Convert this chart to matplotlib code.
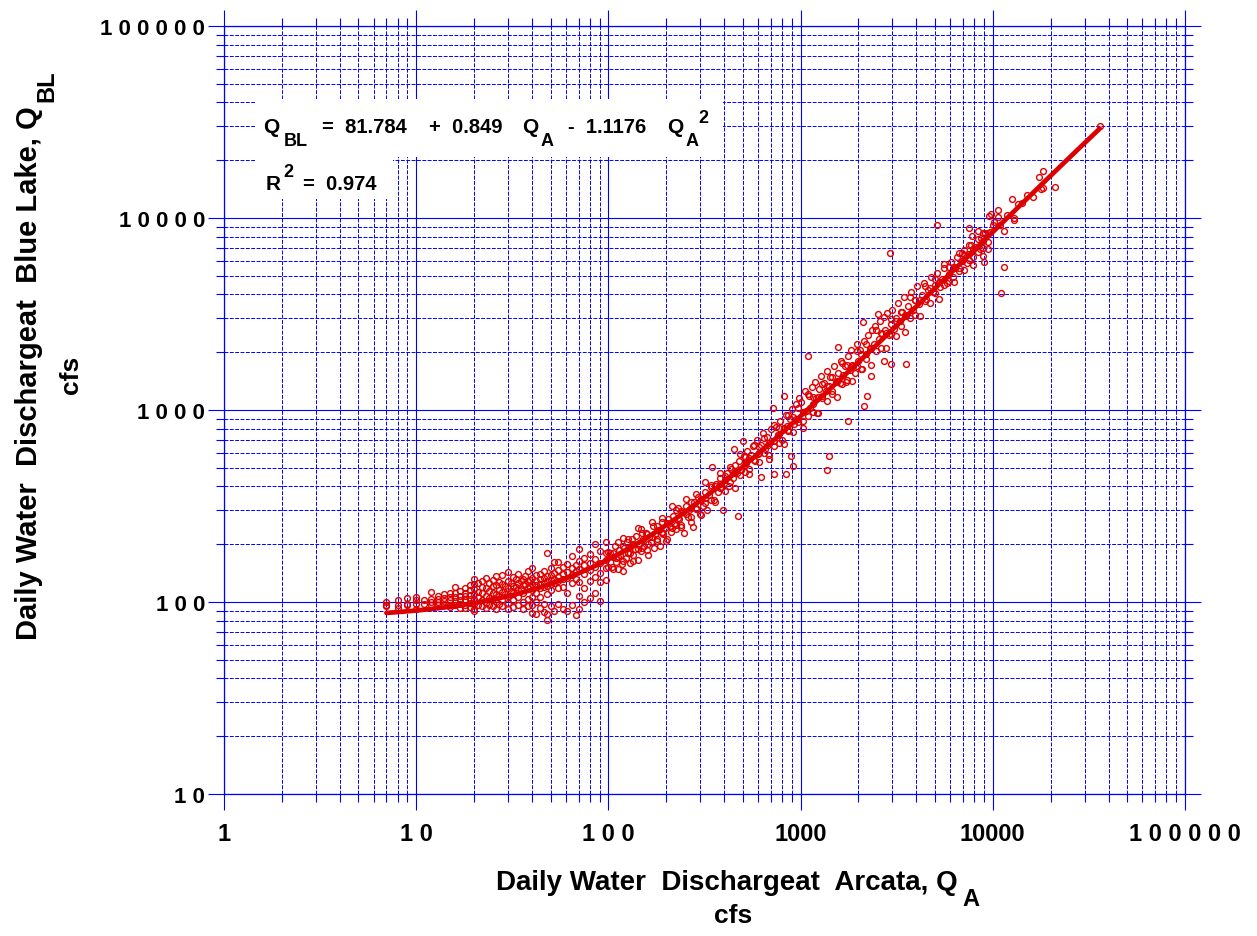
import matplotlib
matplotlib.use('Agg')
import matplotlib.pyplot as plt
from matplotlib.patches import Rectangle
from matplotlib.ticker import FixedLocator, LogLocator, NullFormatter
import numpy as np

plt.rcParams['font.family'] = ['Liberation Sans', 'DejaVu Sans']
plt.rcParams['font.weight'] = 'bold'

W, H = 1257, 937

# quadratic fit of Blue Lake flow on Arcata flow
b0, b1, b2 = 81.784, 0.849, 1.1176e-6
r_squared = 0.974
fit_range = (7, 36000)

x_ticks = [1, 10, 100, 1000, 10000, 100000]
x_tick_labels = ['1', '1 0', '1 0 0', '1000', '10000', '1 0 0 0 0 0']
y_ticks = [10, 100, 1000, 10000, 100000]
y_tick_labels = ['1 0', '1 0 0', '1 0 0 0', '1 0 0 0 0', '1 0 0 0 0 0']

# daily discharge pairs (Arcata cfs, Blue Lake cfs)
low_flow = [
    (7, 100), (7, 97), (7, 95), (8, 103), (8, 96), (8, 93), (9, 105), (9, 98), (9, 96),
    (10, 106), (10, 102), (10, 98), (10, 92), (11, 103), (11, 98),
    (12, 113), (12, 104), (12, 100), (12, 96), (13, 108), (13, 104), (13, 100), (13, 96),
    (14, 110), (14, 105), (14, 101), (14, 97), (15, 112), (15, 106), (15, 102), (15, 97), (15, 94),
    (16, 120), (16, 111), (16, 106), (16, 101), (16, 96), (17, 114), (17, 108), (17, 103), (17, 98), (17, 93),
    (18, 118), (18, 112), (18, 107), (18, 102), (18, 97), (18, 93),
    (19, 122), (19, 115), (19, 109), (19, 104), (19, 99), (19, 94),
]

moderate_flow = [
    (20, 131), (20, 124), (20, 117), (20, 110), (20, 104), (20, 98), (20, 92), (20, 90),
    (21, 126), (21, 113), (21, 106), (21, 96), (22, 128), (22, 120), (22, 111), (22, 103), (22, 95),
    (23, 133), (23, 118), (23, 108), (23, 99), (23, 93), (24, 125), (24, 114), (24, 105), (24, 97),
    (25, 130), (25, 121), (25, 112), (25, 104), (25, 95), (26, 136), (26, 122), (26, 110), (26, 100), (26, 92),
    (27, 127), (27, 116), (27, 107), (27, 98), (28, 138), (28, 124), (28, 113), (28, 103), (28, 95),
    (29, 121), (29, 110), (30, 143), (30, 129), (30, 118), (30, 108), (30, 99), (30, 92),
    (31, 126), (31, 114), (32, 135), (32, 121), (32, 111), (32, 102), (32, 94), (33, 131), (33, 119),
    (34, 140), (34, 126), (34, 115), (34, 106), (34, 96), (35, 128), (35, 117),
    (36, 132), (36, 122), (36, 112), (36, 100), (36, 92), (37, 137), (37, 124),
    (38, 145), (38, 128), (38, 118), (38, 104), (38, 95), (39, 130), (39, 120),
    (40, 150), (40, 134), (40, 124), (40, 116), (40, 106), (40, 96), (40, 88),
    (42, 138), (42, 128), (42, 122), (42, 112), (42, 100), (42, 87),
    (44, 140), (44, 131), (44, 124), (44, 118), (44, 106), (44, 93),
    (46, 145), (46, 133), (46, 126), (46, 119), (46, 98), (46, 89),
    (48, 180), (48, 136), (48, 129), (48, 121), (48, 110), (48, 87), (48, 81),
    (50, 150), (50, 138), (50, 130), (50, 124), (50, 115), (50, 95),
    (52, 161), (52, 142), (52, 132), (52, 125), (52, 90),
    (55, 161), (55, 147), (55, 135), (55, 128), (55, 118), (55, 98),
    (58, 152), (58, 140), (58, 131), (58, 120), (58, 92),
    (61, 158), (61, 144), (61, 134), (61, 112), (61, 90),
    (65, 174), (65, 150), (65, 139), (65, 125), (65, 97),
    (68, 156), (68, 145), (68, 131), (68, 86),
    (70, 189), (70, 163), (70, 148), (70, 127), (70, 108), (70, 92),
    (75, 170), (75, 155), (75, 140), (75, 118), (75, 100),
    (80, 178), (80, 160), (80, 146), (80, 128), (80, 105),
    (85, 200), (85, 168), (85, 152), (85, 135), (85, 112),
    (90, 185), (90, 160), (90, 142), (90, 127), (90, 101),
    (97, 206), (97, 180), (97, 165), (97, 150), (97, 130),
]

high_flow = [
    (102, 180), (104, 152), (106, 171), (108, 195), (110, 162), (110, 170), (112, 148), (113, 186),
    (115, 176), (117, 158), (119, 215), (119, 145), (121, 190), (123, 170), (125, 205), (127, 181),
    (129, 160), (130, 180), (131, 196), (133, 212), (135, 175), (138, 188), (140, 222), (142, 166),
    (145, 200), (147, 240), (148, 185), (151, 213), (154, 195), (157, 228), (160, 176), (160, 200),
    (163, 218), (166, 205), (170, 250), (172, 190), (175, 226), (178, 214), (182, 238), (185, 196),
    (189, 262), (190, 230), (192, 225), (196, 244), (200, 208), (204, 270), (208, 248), (212, 232),
    (216, 282), (220, 256), (225, 240), (229, 309), (230, 275), (233, 270), (238, 252), (243, 295),
    (248, 228), (253, 318), (258, 276), (264, 300), (270, 262), (270, 310), (274, 246), (280, 330),
    (286, 305), (292, 352), (298, 286), (305, 340), (312, 318), (320, 372), (320, 350), (327, 300),
    (335, 360), (342, 395), (348, 505), (355, 340), (363, 410), (372, 375), (380, 440), (380, 410),
    (388, 395), (397, 301), (405, 430), (414, 468), (423, 400), (433, 490), (443, 445), (448, 627),
    (450, 470), (455, 520), (465, 470), (470, 281), (478, 540), (490, 485), (499, 690), (505, 575),
    (515, 520), (520, 530), (528, 610), (540, 490), (553, 580), (566, 650), (580, 540), (594, 700),
    (600, 590), (608, 600), (619, 448), (625, 660), (640, 760), (655, 630), (670, 720), (680, 660),
    (685, 580), (700, 800), (715, 1024), (723, 464), (730, 690), (748, 820), (760, 740), (765, 740),
    (782, 880), (800, 700), (815, 1184), (820, 800), (835, 464), (840, 940), (850, 830), (860, 780),
    (880, 900), (887, 575), (900, 1010), (908, 511), (920, 850), (945, 1080), (950, 900), (965, 900),
    (985, 1150),
]

# the dense band of days that sit close to the curve
band_flow = [
    (100, 183), (100, 153), (106, 179), (106, 148), (112, 205), (112, 172), (119, 196), (119, 163),
    (126, 213), (126, 179), (134, 200), (134, 164), (142, 243), (142, 188), (150, 230), (150, 192),
    (159, 225), (159, 186), (169, 261), (169, 219), (179, 250), (179, 208), (190, 275), (190, 231),
    (201, 257), (201, 212), (213, 315), (213, 244), (226, 301), (226, 252), (240, 297), (240, 246),
    (254, 345), (254, 288), (269, 332), (269, 276), (285, 366), (285, 308), (302, 345), (302, 284),
    (320, 424), (320, 329), (340, 408), (340, 341), (360, 403), (360, 333), (382, 471), (382, 394),
    (405, 455), (405, 379), (429, 504), (429, 424), (455, 477), (455, 393), (482, 589), (482, 457),
    (511, 567), (511, 474), (542, 564), (542, 466), (574, 660), (574, 552), (609, 641), (609, 533),
    (645, 711), (645, 598), (684, 676), (684, 557), (725, 837), (725, 648), (769, 808), (769, 676),
    (815, 805), (815, 665), (864, 946), (864, 791), (916, 920), (916, 765), (971, 1024), (971, 861),
    (1030, 974), (1030, 802), (1090, 1207), (1090, 936), (1160, 1172), (1160, 980),
    (1230, 1169), (1230, 967), (1300, 1373), (1300, 1148), (1380, 1339), (1380, 1113),
    (1460, 1490), (1460, 1253), (1550, 1423), (1550, 1172), (1640, 1765), (1640, 1368),
    (1740, 1712), (1740, 1432), (1850, 1715), (1850, 1418), (1960, 2021), (1960, 1690),
    (2070, 1962), (2070, 1632), (2200, 2197), (2200, 1847), (2330, 2095), (2330, 1725),
    (2470, 2606), (2470, 2020), (2620, 2529), (2620, 2115), (2780, 2530), (2780, 2092),
    (2940, 2979), (2940, 2491), (3120, 2910), (3120, 2421), (3310, 3254), (3310, 2736),
    (3510, 3109), (3510, 2560), (3720, 3870), (3720, 2999), (3940, 3751), (3940, 3137),
    (4180, 3755), (4180, 3105), (4430, 4432), (4430, 3706), (4690, 4322), (4690, 3595),
    (4980, 4839), (4980, 4068), (5280, 4624), (5280, 3808), (5590, 5752), (5590, 4457),
    (5930, 5585), (5930, 4671), (6280, 5584), (6280, 4617), (6660, 6596), (6660, 5515),
    (7060, 6441), (7060, 5358), (7480, 7198), (7480, 6052), (7930, 6879), (7930, 5665),
    (8410, 8572), (8410, 6643), (8910, 8314), (8910, 6953), (9450, 8325), (9450, 6884),
]

flood_flow = [
    (1010, 1100), (1030, 880), (1050, 1250), (1070, 990), (1087, 1910), (1100, 1180), (1120, 1020),
    (1140, 1320), (1160, 1080), (1185, 1400), (1200, 1150), (1220, 960), (1250, 1290), (1270, 1500),
    (1290, 1180), (1320, 1380), (1350, 1250), (1380, 487), (1380, 1600), (1400, 575), (1400, 1330),
    (1430, 1480), (1460, 1210), (1490, 1700), (1520, 1400), (1560, 2128), (1560, 1560), (1600, 1380),
    (1630, 1800), (1660, 1520), (1700, 1690), (1730, 1400), (1758, 877), (1760, 1900), (1800, 1620),
    (1840, 2050), (1880, 1700), (1920, 1550), (1960, 2200), (2000, 1800), (2040, 2050), (2080, 1640),
    (2104, 2871), (2128, 1050), (2150, 2300), (2200, 1950), (2220, 1184), (2250, 2450), (2300, 2080),
    (2316, 1503), (2350, 2600), (2400, 2200), (2450, 2750), (2518, 3162), (2550, 2350), (2600, 2900),
    (2650, 2500), (2705, 1800), (2700, 3050), (2760, 2600), (2820, 3200), (2880, 2450), (2910, 6580),
    (2943, 1738), (2950, 2800), (3000, 3300), (3080, 2650), (3150, 3000), (3220, 3600), (3300, 2900),
    (3380, 3250), (3450, 3900), (3524, 1738), (3550, 3100), (3640, 3500), (3740, 4100), (3840, 3300),
    (3950, 3750), (4050, 4400), (4150, 3550), (4260, 3950), (4380, 4600), (4500, 3800), (4620, 4200),
    (4750, 4900), (4880, 4100), (5000, 4500), (5100, 9200), (5150, 5200), (5300, 4350), (5450, 4800),
    (5600, 5500), (5750, 4600), (5900, 5100), (6050, 5900), (6200, 4900), (6380, 5500), (6550, 6300),
    (6700, 5300), (6900, 6000), (6900, 6580), (7100, 6800), (7300, 5800), (7500, 8870), (7500, 6500),
    (7700, 7200), (7800, 8100), (7900, 6300), (8100, 7100), (8350, 7800), (8600, 6900), (8660, 7870),
    (8850, 7600), (8900, 6340), (9000, 5900), (9100, 8400), (9400, 7500), (9500, 10240), (9700, 8500),
    (9770, 10500), (10000, 9200),
]

peak_flow = [
    (10200, 9500), (10600, 11000), (10700, 10100), (10900, 9200), (11000, 4070), (11400, 5560),
    (11500, 8560), (11800, 10400), (12600, 12600), (12860, 10000), (12900, 9800), (13500, 11800),
    (14200, 12000), (15000, 13100), (16100, 12800), (17300, 16400), (17800, 14200), (18200, 17600),
    (18200, 14300), (21000, 14500), (36000, 30000),
]

obs = np.array(low_flow + moderate_flow + high_flow + band_flow + flood_flow + peak_flow,
               dtype=float)
qa, qbl = obs[:, 0], obs[:, 1]

qa_fit = np.logspace(np.log10(fit_range[0]), np.log10(fit_range[1]), 400)
qbl_fit = b0 + b1 * qa_fit - b2 * qa_fit ** 2

fig = plt.figure(figsize=(W / 100, H / 100), dpi=100)
ax = fig.add_axes([224 / W, 1 - 795 / H, 961 / W, 768 / H])
ax.set_xscale('log')
ax.set_yscale('log')
ax.set_xlim(1, 100000)
ax.set_ylim(10, 100000)
ax.set_axisbelow(True)

blue = '#0000ff'
for s in ax.spines.values():
    s.set_color(blue)
    s.set_linewidth(0.9)

ax.xaxis.set_major_locator(FixedLocator(x_ticks))
ax.yaxis.set_major_locator(FixedLocator(y_ticks))
ax.set_xticklabels(x_tick_labels)
ax.set_yticklabels(y_tick_labels)
ax.xaxis.set_minor_locator(LogLocator(base=10, subs=range(2, 10), numticks=20))
ax.yaxis.set_minor_locator(LogLocator(base=10, subs=range(2, 10), numticks=20))
ax.xaxis.set_minor_formatter(NullFormatter())
ax.yaxis.set_minor_formatter(NullFormatter())

ax.tick_params(which='both', direction='out', color=blue, width=0.8,
               top=True, right=True)
ax.tick_params(which='major', length=11.5)
ax.tick_params(which='minor', length=5.8)
ax.tick_params(axis='x', which='major', pad=9, labelsize=17)
ax.tick_params(axis='y', which='major', pad=2, labelsize=16)

ax.grid(which='major', color=blue, lw=0.8, ls='-')
ax.grid(which='minor', color=blue, lw=0.7, ls=(0, (4, 1.5)))

# white panels behind the regression annotation
ax.add_patch(Rectangle((0.032, 0.829), 0.487, 0.076, transform=ax.transAxes,
                       facecolor='white', edgecolor='none', zorder=1))
ax.add_patch(Rectangle((0.032, 0.775), 0.144, 0.056, transform=ax.transAxes,
                       facecolor='white', edgecolor='none', zorder=1))

ax.plot(qa, qbl, 'o', ms=4.2, mfc='none', mec='#e00000', mew=1.0, zorder=3)
ax.plot(qa_fit, qbl_fit, color='#dd0000', lw=3.4, solid_capstyle='round', zorder=4)


def put(px, py, s, size=14, **kw):
    fig.text(px / W, 1 - py / H, s, fontsize=size, fontweight='bold',
             va='baseline', **kw)


# regression equation
put(263, 133, 'Q', 15)
put(284, 146, 'BL', 13)
put(322, 133, '=  81.784', 14.5)
put(429, 133, '+  0.849', 14.5)
put(522, 133, 'Q', 15)
put(541, 146, 'A', 13)
put(568, 133, '-  1.1176', 14.5)
put(667, 133, 'Q', 15)
put(686, 146, 'A', 13)
put(698, 123, '2', 13)
put(266, 190, 'R', 15)
put(283, 177, '2', 13)
put(303, 190, '=  0.974', 14.5)

# axis titles
put(958, 890, 'Daily Water  Dischargeat  Arcata, Q', 20, ha='right')
put(962, 906, 'A', 17)
put(733, 923, 'cfs', 19, ha='center')

fig.text(37 / W, 1 - 106 / H, 'Daily Water  Dischargeat  Blue Lake, Q',
         fontsize=21, fontweight='bold', rotation=90, rotation_mode='anchor',
         ha='right', va='baseline')
fig.text(53 / W, 1 - 102 / H, 'BL', fontsize=17, fontweight='bold',
         rotation=90, rotation_mode='anchor', ha='left', va='baseline')
fig.text(78 / W, 1 - 375 / H, 'cfs', fontsize=19, fontweight='bold',
         rotation=90, rotation_mode='anchor', ha='center', va='baseline')

fig.savefig('out.png', dpi=100)
